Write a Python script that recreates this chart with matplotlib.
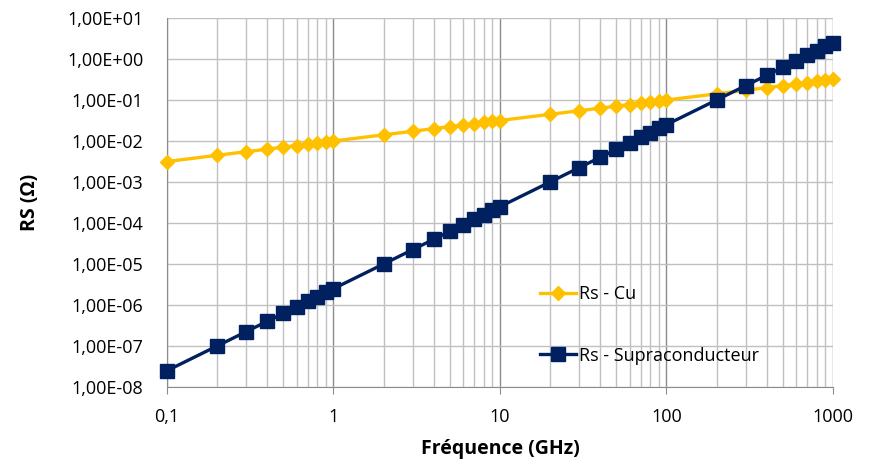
import matplotlib.pyplot as plt
from matplotlib.ticker import FixedLocator, FuncFormatter, LogLocator, NullFormatter

freq = [0.1, 0.2, 0.3, 0.4, 0.5, 0.6, 0.7, 0.8, 0.9,
        1, 2, 3, 4, 5, 6, 7, 8, 9,
        10, 20, 30, 40, 50, 60, 70, 80, 90,
        100, 200, 300, 400, 500, 600, 700, 800, 900, 1000]

rs_cu = [3.16e-3, 4.47e-3, 5.48e-3, 6.32e-3, 7.07e-3, 7.75e-3, 8.37e-3, 8.94e-3, 9.49e-3,
         1.00e-2, 1.41e-2, 1.73e-2, 2.00e-2, 2.24e-2, 2.45e-2, 2.65e-2, 2.83e-2, 3.00e-2,
         3.16e-2, 4.47e-2, 5.48e-2, 6.32e-2, 7.07e-2, 7.75e-2, 8.37e-2, 8.94e-2, 9.49e-2,
         1.00e-1, 1.41e-1, 1.73e-1, 2.00e-1, 2.24e-1, 2.45e-1, 2.65e-1, 2.83e-1, 3.00e-1,
         3.16e-1]

rs_supra = [2.5e-8, 1.0e-7, 2.25e-7, 4.0e-7, 6.25e-7, 9.0e-7, 1.23e-6, 1.6e-6, 2.03e-6,
            2.5e-6, 1.0e-5, 2.25e-5, 4.0e-5, 6.25e-5, 9.0e-5, 1.23e-4, 1.6e-4, 2.03e-4,
            2.5e-4, 1.0e-3, 2.25e-3, 4.0e-3, 6.25e-3, 9.0e-3, 1.23e-2, 1.6e-2, 2.03e-2,
            2.5e-2, 1.0e-1, 2.25e-1, 4.0e-1, 6.25e-1, 9.0e-1, 1.23, 1.6, 2.03,
            2.5]

x_ticks = [0.1, 1, 10, 100, 1000]
x_labels = ['0,1', '1', '10', '100', '1000']

plt.rcParams['font.family'] = ['Open Sans', 'DejaVu Sans']

fig = plt.figure(figsize=(8.76, 4.61), dpi=100)
ax = fig.add_axes([0.1906, 0.1605, 0.7603, 0.8005])

ax.set_xscale('log')
ax.set_yscale('log')
ax.set_xlim(0.1, 1000)
ax.set_ylim(1e-8, 10)

ax.plot(freq, rs_cu, color='#FFC000', lw=2.4, marker='D', ms=7.5,
        label='Rs - Cu', zorder=3, clip_on=False)
ax.plot(freq, rs_supra, color='#002060', lw=2.4, marker='s', ms=9.5,
        label='Rs - Supraconducteur', zorder=4, clip_on=False)

ax.xaxis.set_major_locator(FixedLocator(x_ticks))
ax.xaxis.set_major_formatter(FuncFormatter(lambda v, p: x_labels[x_ticks.index(v)] if v in x_ticks else ''))
ax.xaxis.set_minor_locator(LogLocator(base=10, subs=range(2, 10), numticks=20))
ax.xaxis.set_minor_formatter(NullFormatter())

ax.yaxis.set_major_locator(LogLocator(base=10, numticks=20))
ax.yaxis.set_minor_locator(FixedLocator([]))

def sci_fmt(v, p):
    s = '%.2E' % v
    mant, exp = s.split('E')
    return mant.replace('.', ',') + 'E' + exp
ax.yaxis.set_major_formatter(FuncFormatter(sci_fmt))

ax.grid(True, which='major', axis='x', color='#8C8C8C', lw=1.0)
ax.grid(True, which='minor', axis='x', color='#C0C0C0', lw=1.0)
ax.grid(True, which='major', axis='y', color='#C0C0C0', lw=1.0)
ax.set_axisbelow(True)

for s in ['top', 'right']:
    ax.spines[s].set_visible(False)
ax.spines['left'].set_color('#8C8C8C')
ax.spines['bottom'].set_color('#8C8C8C')

ax.tick_params(axis='x', which='major', length=5, color='#8C8C8C', labelsize=13, pad=10)
ax.tick_params(axis='x', which='minor', length=0)
ax.tick_params(axis='y', which='major', length=0, labelsize=13, pad=17)

ax.set_xlabel('Fréquence (GHz)', fontsize=14, fontweight='bold')
ax.set_ylabel('RS (Ω)', fontsize=14, fontweight='bold')
ax.xaxis.set_label_coords(0.5, -0.142)
ax.yaxis.set_label_coords(-0.19, 0.5)

ax.legend(loc='center left', bbox_to_anchor=(0.536, 0.168), frameon=False,
          fontsize=13, labelspacing=2.4, handlelength=2.0, handletextpad=0.15)

fig.savefig('out.png', dpi=100)
